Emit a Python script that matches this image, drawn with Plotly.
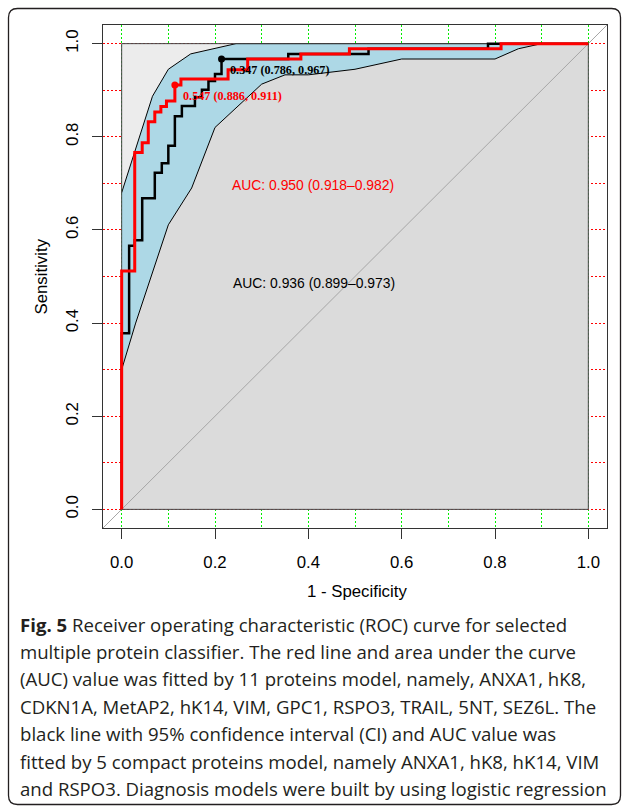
import plotly.graph_objects as go

# ---------------- data ----------------
# 11-protein model ROC (red), step vertices: x = 1 - specificity, y = sensitivity
red_fpr = [0.0, 0.0, 0.028, 0.044, 0.057, 0.071, 0.084, 0.096, 0.114, 0.127, 0.228, 0.270, 0.384, 0.488, 0.813, 1.0]
red_tpr = [0.0, 0.512, 0.766, 0.787, 0.832, 0.853, 0.865, 0.877, 0.911, 0.924, 0.944, 0.967, 0.978, 0.989, 1.0, 1.0]

# 5-protein model ROC (black)
blk_fpr = [0.0, 0.0, 0.016, 0.028, 0.044, 0.071, 0.086, 0.100, 0.114, 0.129, 0.157, 0.172, 0.186, 0.200, 0.214, 0.357, 0.529, 0.785, 1.0]
blk_tpr = [0.0, 0.378, 0.566, 0.578, 0.668, 0.723, 0.743, 0.781, 0.844, 0.866, 0.885, 0.901, 0.920, 0.935, 0.967, 0.978, 0.989, 1.0, 1.0]

# 95% CI band of sensitivity (black model)
ci_up_fpr = [0.0, 0.044, 0.066, 0.100, 0.148, 0.245, 1.0]
ci_up_tpr = [0.680, 0.815, 0.887, 0.945, 0.978, 1.0, 1.0]
ci_lo_fpr = [0.0, 0.030, 0.100, 0.150, 0.200, 0.300, 0.350, 0.400, 0.500, 0.600, 0.800, 0.850, 0.900, 1.0]
ci_lo_tpr = [0.300, 0.400, 0.611, 0.690, 0.820, 0.913, 0.933, 0.933, 0.945, 0.967, 0.967, 0.989, 1.0, 1.0]

# best thresholds: (threshold, specificity, sensitivity)
red_thr = (0.547, 0.886, 0.911)
blk_thr = (0.347, 0.786, 0.967)

red_auc_text = "AUC: 0.950 (0.918\u20130.982)"
blk_auc_text = "AUC: 0.936 (0.899\u20130.973)"

tick_vals = [0.0, 0.2, 0.4, 0.6, 0.8, 1.0]
tick_text = ["0.0", "0.2", "0.4", "0.6", "0.8", "1.0"]
grid_minor = [0.1, 0.3, 0.5, 0.7, 0.9]

caption_lines = [
    "<b>Fig. 5</b> Receiver operating characteristic (ROC) curve for selected",
    "multiple protein classifier. The red line and area under the curve",
    "(AUC) value was fitted by 11 proteins model, namely, ANXA1, hK8,",
    "CDKN1A, MetAP2, hK14, VIM, GPC1, RSPO3, TRAIL, 5NT, SEZ6L. The",
    "black line with 95% confidence interval (CI) and AUC value was",
    "fitted by 5 compact proteins model, namely ANXA1, hK8, hK14, VIM",
    "and RSPO3. Diagnosis models were built by using logistic regression",
]

# ---------------- layout geometry ----------------
W, H = 627, 806
ML, MR, MT, MB = 103, 20, 25, 278
PW, PH = W - ML - MR, H - MT - MB


def px_to_paper(px, py):
    return (px - ML) / PW, (H - MB - py) / PH


AX_FONT = "Liberation Sans, Arial, sans-serif"
DOTS = "2px,2px"

fig = go.Figure()

# whole unit square (light gray)
fig.add_trace(go.Scatter(x=[0, 1, 1, 0, 0], y=[0, 0, 1, 1, 0], mode="lines",
                         fill="toself", fillcolor="#ECECEC", line=dict(width=0),
                         hoverinfo="skip", showlegend=False))
# area under the ROC curve (gray)
fig.add_trace(go.Scatter(x=blk_fpr, y=blk_tpr, mode="lines", line_shape="hv",
                         fill="tozeroy", fillcolor="#DBDBDB", line=dict(width=0),
                         hoverinfo="skip", showlegend=False))
# CI band
fig.add_trace(go.Scatter(x=ci_up_fpr + ci_lo_fpr[::-1], y=ci_up_tpr + ci_lo_tpr[::-1],
                         mode="lines", fill="toself", fillcolor="#ADD8E6",
                         line=dict(color="black", width=1),
                         hoverinfo="skip", showlegend=False))
# diagonal
fig.add_trace(go.Scatter(x=[-0.04, 1.04], y=[-0.04, 1.04], mode="lines",
                         line=dict(color="#A6A6A6", width=1),
                         hoverinfo="skip", showlegend=False))
# unit square border
fig.add_trace(go.Scatter(x=[0, 1, 1, 0, 0], y=[0, 0, 1, 1, 0], mode="lines",
                         line=dict(color="#444444", width=1),
                         hoverinfo="skip", showlegend=False))
# ROC curves
fig.add_trace(go.Scatter(x=blk_fpr, y=blk_tpr, mode="lines", line_shape="hv",
                         line=dict(color="black", width=2.5),
                         hoverinfo="skip", showlegend=False))
fig.add_trace(go.Scatter(x=red_fpr, y=red_tpr, mode="lines", line_shape="hv",
                         line=dict(color="#FF0000", width=3),
                         hoverinfo="skip", showlegend=False))
# threshold points
fig.add_trace(go.Scatter(x=[1 - blk_thr[1]], y=[blk_thr[2]], mode="markers",
                         marker=dict(color="black", size=7),
                         hoverinfo="skip", showlegend=False))
fig.add_trace(go.Scatter(x=[1 - red_thr[1]], y=[red_thr[2]], mode="markers",
                         marker=dict(color="#FF0000", size=7),
                         hoverinfo="skip", showlegend=False))

annotations = []
# threshold labels
for thr, col in ((blk_thr, "black"), (red_thr, "#FF0000")):
    annotations.append(dict(
        x=1 - thr[1], y=thr[2], xref="x", yref="y",
        text=f"<b>{thr[0]:.3f} ({thr[1]:.3f}, {thr[2]:.3f})</b>",
        showarrow=False, xanchor="left", yanchor="middle", xshift=6, yshift=-11,
        font=dict(family="Liberation Serif, Times New Roman, serif", size=12.2, color=col)))
# AUC labels
annotations.append(dict(x=0.411, y=0.697, xref="x", yref="y", text=red_auc_text,
                        showarrow=False, xanchor="center", yanchor="middle",
                        font=dict(family=AX_FONT, size=13.9, color="#FF0000")))
annotations.append(dict(x=0.412, y=0.487, xref="x", yref="y", text=blk_auc_text,
                        showarrow=False, xanchor="center", yanchor="middle",
                        font=dict(family=AX_FONT, size=13.9, color="black")))
# axis titles
xt = px_to_paper(356.7, 591.7)
annotations.append(dict(x=xt[0], y=xt[1], xref="paper", yref="paper", text="1 - Specificity",
                        showarrow=False, xanchor="center", yanchor="middle",
                        font=dict(family=AX_FONT, size=16.8, color="black")))
yt = px_to_paper(41, 276.5)
annotations.append(dict(x=yt[0], y=yt[1], xref="paper", yref="paper", text="Sensitivity",
                        showarrow=False, xanchor="center", yanchor="middle", textangle=-90,
                        font=dict(family=AX_FONT, size=16.8, color="black")))
# caption
cap_y0, cap_dy = 624.0, 27.4
for i, line in enumerate(caption_lines):
    cx, cy = px_to_paper(18, cap_y0 + i * cap_dy)
    annotations.append(dict(x=cx, y=cy, xref="paper", yref="paper", text=line,
                            showarrow=False, xanchor="left", yanchor="middle",
                            font=dict(family="Open Sans, sans-serif", size=18.6, color="#231F20")))

# rounded outer frame
L, T, R, B, r = 8.5, 8.5, 620.5, 804.5, 9


def P(px, py):
    a, b = px_to_paper(px, py)
    return f"{a:.5f},{b:.5f}"


frame_path = (f"M {P(L, B - r)} L {P(L, T + r)} Q {P(L, T)} {P(L + r, T)} "
              f"L {P(R - r, T)} Q {P(R, T)} {P(R, T + r)} L {P(R, B - r)} "
              f"Q {P(R, B)} {P(R - r, B)} L {P(L + r, B)} Q {P(L, B)} {P(L, B - r)} Z")
shapes = [dict(type="path", path=frame_path, xref="paper", yref="paper",
               line=dict(color="#231F20", width=1.3), layer="above")]

axis_common = dict(
    range=[-0.04, 1.04], tickmode="array", tickvals=tick_vals, ticktext=tick_text,
    ticks="outside", ticklen=10, tickwidth=1, tickcolor="#333333",
    showline=True, mirror=True, linecolor="#333333", linewidth=1,
    zeroline=False, showgrid=True, griddash=DOTS, gridwidth=1,
    tickfont=dict(family=AX_FONT, size=16.8, color="black"),
    fixedrange=True,
)

fig.update_layout(
    width=W, height=H,
    margin=dict(l=ML, r=MR, t=MT, b=MB),
    paper_bgcolor="white", plot_bgcolor="white",
    xaxis=dict(**axis_common, gridcolor="#00EE00", ticklabelstandoff=9,
               minor=dict(tickvals=grid_minor, showgrid=True, gridcolor="#00EE00",
                          griddash=DOTS, gridwidth=1, ticks="")),
    yaxis=dict(**axis_common, gridcolor="#FF0000", tickangle=-90, ticklabelstandoff=7,
               minor=dict(tickvals=grid_minor, showgrid=True, gridcolor="#FF0000",
                          griddash=DOTS, gridwidth=1, ticks="")),
    annotations=annotations,
    shapes=shapes,
    showlegend=False,
)

fig.write_html("out.html")
